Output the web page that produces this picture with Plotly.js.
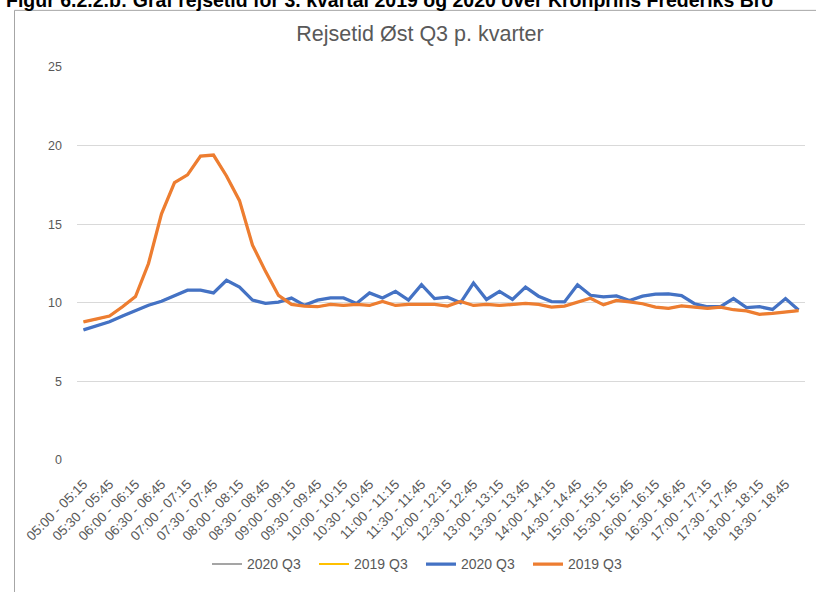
<!DOCTYPE html>
<html>
<head>
<meta charset="utf-8">
<script src="https://cdn.plot.ly/plotly-3.0.1.min.js"></script>
<style>
html,body{margin:0;padding:0;background:#fff;}
#chart{width:816px;height:592px;}
</style>
</head>
<body>
<div id="chart"></div>
<script>
const categories = [
"05:00 - 05:15","05:15 - 05:30","05:30 - 05:45","05:45 - 06:00",
"06:00 - 06:15","06:15 - 06:30","06:30 - 06:45","06:45 - 07:00",
"07:00 - 07:15","07:15 - 07:30","07:30 - 07:45","07:45 - 08:00",
"08:00 - 08:15","08:15 - 08:30","08:30 - 08:45","08:45 - 09:00",
"09:00 - 09:15","09:15 - 09:30","09:30 - 09:45","09:45 - 10:00",
"10:00 - 10:15","10:15 - 10:30","10:30 - 10:45","10:45 - 11:00",
"11:00 - 11:15","11:15 - 11:30","11:30 - 11:45","11:45 - 12:00",
"12:00 - 12:15","12:15 - 12:30","12:30 - 12:45","12:45 - 13:00",
"13:00 - 13:15","13:15 - 13:30","13:30 - 13:45","13:45 - 14:00",
"14:00 - 14:15","14:15 - 14:30","14:30 - 14:45","14:45 - 15:00",
"15:00 - 15:15","15:15 - 15:30","15:30 - 15:45","15:45 - 16:00",
"16:00 - 16:15","16:15 - 16:30","16:30 - 16:45","16:45 - 17:00",
"17:00 - 17:15","17:15 - 17:30","17:30 - 17:45","17:45 - 18:00",
"18:00 - 18:15","18:15 - 18:30","18:30 - 18:45","18:45 - 19:00"
];

const q3_2020 = [
8.28,8.53,8.79,9.16,9.48,9.84,10.1,10.47,10.8,10.8,
10.63,11.43,11.0,10.17,9.96,10.04,10.3,9.84,10.17,10.31,
10.31,9.96,10.63,10.31,10.73,10.17,11.15,10.27,10.36,10.0,
11.26,10.21,10.73,10.21,11.0,10.42,10.08,10.06,11.15,10.48,
10.38,10.44,10.15,10.42,10.55,10.57,10.46,9.94,9.75,9.75,
10.27,9.69,9.75,9.58,10.27,9.54
];

const q3_2019 = [
8.79,8.95,9.16,9.75,10.4,12.5,15.66,17.65,18.14,19.33,
19.4,18.07,16.5,13.67,12.0,10.47,9.9,9.79,9.75,9.9,
9.83,9.9,9.83,10.08,9.83,9.9,9.9,9.9,9.79,10.08,
9.83,9.9,9.83,9.9,9.96,9.9,9.73,9.79,10.04,10.29,
9.87,10.15,10.06,9.94,9.73,9.64,9.81,9.73,9.64,9.73,
9.56,9.48,9.27,9.33,9.43,9.5
];

const seriesNames = ["2020 Q3","2019 Q3","2020 Q3","2019 Q3"];
const yTicks = [0,5,10,15,20,25];

const headerText = "Figur 6.2.2.b: Graf rejsetid for 3. kvartal 2019 og 2020 over Kronprins Frederiks Bro";
const chartTitle = "Rejsetid Øst Q3 p. kvarter";

// plot area in pixels
const L = 77, R = 805, T = 67, B = 466, W = 816, H = 592;
const px = x => (x - L) / (R - L);
const py = y => (B - y) / (B - T);

const tickCats = categories.filter((c, i) => i % 2 === 0);

const traces = [
  {x: categories, y: q3_2020, name: seriesNames[0], type: 'scatter', mode: 'lines',
   line: {color: '#A5A5A5', width: 2}},
  {x: categories, y: q3_2019, name: seriesNames[1], type: 'scatter', mode: 'lines',
   line: {color: '#FFC000', width: 2}},
  {x: categories, y: q3_2020, name: seriesNames[2], type: 'scatter', mode: 'lines',
   line: {color: '#4472C4', width: 3.25}},
  {x: categories, y: q3_2019, name: seriesNames[3], type: 'scatter', mode: 'lines',
   line: {color: '#ED7D31', width: 3.25}}
];

const layout = {
  width: W, height: H,
  margin: {l: L, r: W - R, t: T, b: H - B, pad: 0},
  paper_bgcolor: '#ffffff', plot_bgcolor: '#ffffff',
  font: {family: 'Liberation Sans, Arial, sans-serif', color: '#595959', size: 12},
  title: {text: chartTitle, x: 420 / W, xref: 'container', xanchor: 'center',
          y: 1 - 33 / H, yref: 'container', yanchor: 'middle',
          font: {size: 21.5, color: '#595959', family: 'Liberation Sans, Arial, sans-serif'}},
  showlegend: true,
  legend: {orientation: 'h', x: px(421), xanchor: 'center', y: py(572), yanchor: 'middle',
           font: {size: 14, color: '#595959'}, traceorder: 'normal', itemwidth: 30,
           entrywidth: 62, entrywidthmode: 'pixels',
           bgcolor: 'rgba(0,0,0,0)'},
  xaxis: {type: 'category', range: [-0.5, categories.length - 0.5],
          tickmode: 'array', tickvals: tickCats, ticktext: tickCats,
          tickangle: -45, showgrid: false, zeroline: false, showline: false,
          ticks: 'outside', ticklen: 10, tickcolor: 'rgba(0,0,0,0)',
          tickfont: {size: 13.5, color: '#595959'}, fixedrange: true},
  yaxis: {range: [0, 25], tickvals: yTicks, ticktext: yTicks.map(String),
          showgrid: true, gridcolor: '#D9D9D9', gridwidth: 1, zeroline: false,
          showline: false, ticks: '', tickfont: {size: 12.5, color: '#595959'},
          ticklabelstandoff: 14, fixedrange: true},
  shapes: [
    {type: 'line', xref: 'paper', yref: 'paper', x0: px(14.5), x1: px(14.5), y0: py(9.5), y1: py(600),
     line: {color: '#A6A6A6', width: 1}},
    {type: 'line', xref: 'paper', yref: 'paper', x0: px(14.5), x1: px(830), y0: py(9.5), y1: py(9.5),
     line: {color: '#A6A6A6', width: 1}}
  ],
  annotations: [
    {text: '<b>' + headerText + '</b>', xref: 'paper', yref: 'paper', x: px(4), y: py(-1),
     xanchor: 'left', yanchor: 'middle', showarrow: false,
     font: {size: 19.5, color: '#000000', family: 'Liberation Sans, Arial, sans-serif'}}
  ]
};

Plotly.newPlot('chart', traces, layout, {displayModeBar: false, staticPlot: true});
</script>
</body>
</html>
